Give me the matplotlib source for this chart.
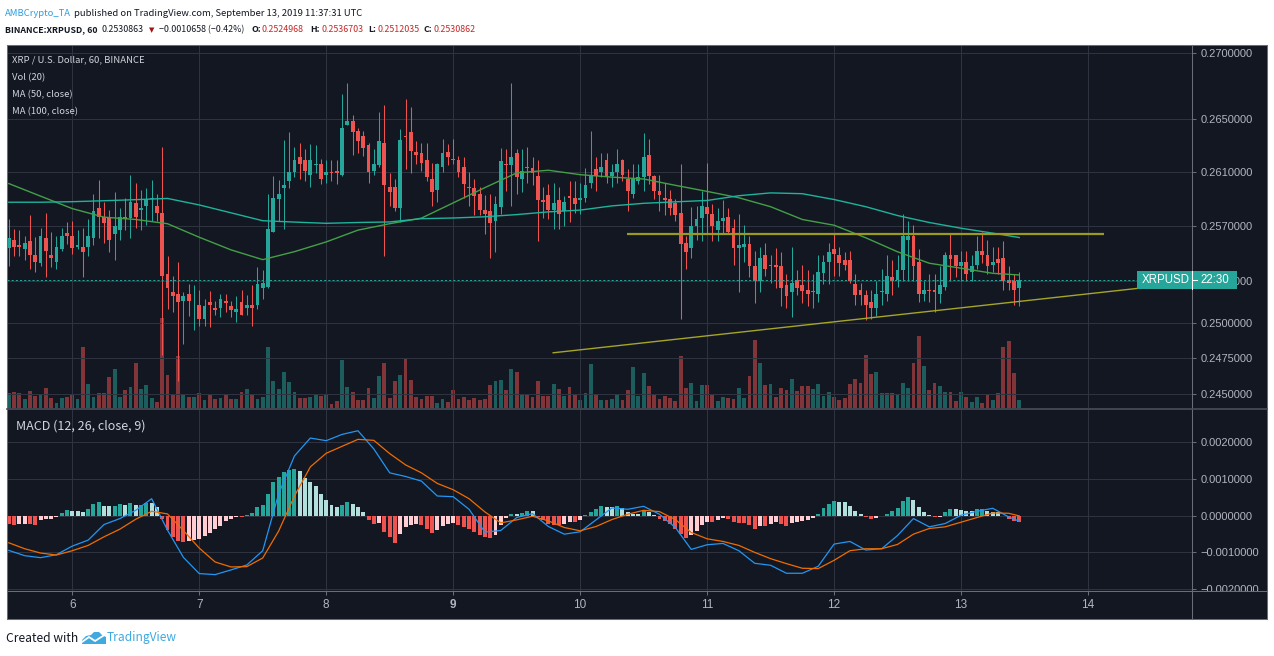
import matplotlib
matplotlib.use("Agg")
import numpy as np
import matplotlib.pyplot as plt
import matplotlib.ticker as mticker
from matplotlib.patches import Rectangle, Polygon
from matplotlib.lines import Line2D

# ---------------- data (hourly candles, index 0 = Sep 5 12:00 UTC) ----------------
day_labels = ["6", "7", "8", "9", "10", "11", "12", "13", "14"]
day_index = [12, 36, 60, 84, 108, 132, 156, 180, 204]

open_ = [
    0.2554, 0.2560, 0.2556, 0.2553, 0.2559, 0.2549, 0.2543, 0.2561, 0.2549, 0.2544, 0.2553, 0.2565,
    0.2563, 0.2555, 0.2555, 0.2555, 0.2561, 0.2583, 0.2577, 0.2576, 0.2564, 0.2567, 0.2577, 0.2576,
    0.2587, 0.2582, 0.2585, 0.2590, 0.2585, 0.2580, 0.2535, 0.2522, 0.2521, 0.2516, 0.2521, 0.2514,
    0.2513, 0.2503, 0.2515, 0.2511, 0.2511, 0.2516, 0.2512, 0.2508, 0.2515, 0.2511, 0.2513, 0.2513,
    0.2525, 0.2526, 0.2566, 0.2590, 0.2598, 0.2603, 0.2610, 0.2621, 0.2619, 0.2608, 0.2615, 0.2616,
    0.2608, 0.2610, 0.2611, 0.2608, 0.2645, 0.2648, 0.2641, 0.2637, 0.2630, 0.2611, 0.2615, 0.2632,
    0.2599, 0.2599, 0.2583, 0.2637, 0.2640, 0.2625, 0.2624, 0.2619, 0.2605, 0.2597, 0.2614, 0.2625,
    0.2620, 0.2619, 0.2614, 0.2599, 0.2598, 0.2594, 0.2582, 0.2581, 0.2574, 0.2584, 0.2616, 0.2615,
    0.2624, 0.2605, 0.2614, 0.2613, 0.2607, 0.2589, 0.2593, 0.2582, 0.2589, 0.2581, 0.2592, 0.2591,
    0.2589, 0.2591, 0.2602, 0.2612, 0.2610, 0.2619, 0.2607, 0.2610, 0.2619, 0.2605, 0.2594, 0.2603,
    0.2606, 0.2623, 0.2607, 0.2596, 0.2591, 0.2590, 0.2587, 0.2580, 0.2558, 0.2554, 0.2570, 0.2576,
    0.2584, 0.2579, 0.2567, 0.2574, 0.2577, 0.2569, 0.2554, 0.2555, 0.2557, 0.2541, 0.2530, 0.2549,
    0.2541, 0.2542, 0.2541, 0.2527, 0.2522, 0.2531, 0.2527, 0.2524, 0.2522, 0.2521, 0.2536, 0.2544,
    0.2553, 0.2549, 0.2545, 0.2545, 0.2528, 0.2524, 0.2520, 0.2515, 0.2511, 0.2522, 0.2521, 0.2533,
    0.2531, 0.2538, 0.2560, 0.2563, 0.2544, 0.2521, 0.2524, 0.2524, 0.2521, 0.2526, 0.2549, 0.2549,
    0.2541, 0.2544, 0.2537, 0.2542, 0.2552, 0.2549, 0.2542, 0.2546, 0.2547, 0.2531, 0.2530, 0.2524968,
]
high = [
    0.2575, 0.2568, 0.2567, 0.2563, 0.2578, 0.2562, 0.2569, 0.2580, 0.2566, 0.2563, 0.2569, 0.2573,
    0.2574, 0.2567, 0.2569, 0.2575, 0.2594, 0.2604, 0.2588, 0.2582, 0.2595, 0.2583, 0.2591, 0.2608,
    0.2602, 0.2597, 0.2598, 0.2604, 0.2594, 0.2629, 0.2548, 0.2534, 0.2544, 0.2522, 0.2528, 0.2527,
    0.2524, 0.2517, 0.2523, 0.2516, 0.2521, 0.2521, 0.2516, 0.2519, 0.2524, 0.2520, 0.2527, 0.2540,
    0.2538, 0.2594, 0.2607, 0.2604, 0.2634, 0.2640, 0.2629, 0.2632, 0.2627, 0.2631, 0.2630, 0.2620,
    0.2619, 0.2619, 0.2619, 0.2669, 0.2677, 0.2653, 0.2643, 0.2641, 0.2632, 0.2627, 0.2655, 0.2660,
    0.2609, 0.2605, 0.2642, 0.2665, 0.2659, 0.2633, 0.2632, 0.2632, 0.2617, 0.2617, 0.2635, 0.2631,
    0.2635, 0.2622, 0.2621, 0.2610, 0.2605, 0.2599, 0.2593, 0.2594, 0.2592, 0.2628, 0.2627, 0.2677,
    0.2627, 0.2627, 0.2629, 0.2621, 0.2619, 0.2599, 0.2601, 0.2602, 0.2599, 0.2592, 0.2603, 0.2603,
    0.2602, 0.2613, 0.2641, 0.2621, 0.2624, 0.2624, 0.2616, 0.2627, 0.2620, 0.2612, 0.2616, 0.2616,
    0.2639, 0.2635, 0.2608, 0.2608, 0.2602, 0.2597, 0.2590, 0.2616, 0.2563, 0.2584, 0.2585, 0.2596,
    0.2617, 0.2586, 0.2583, 0.2589, 0.2583, 0.2575, 0.2579, 0.2571, 0.2563, 0.2552, 0.2555, 0.2558,
    0.2549, 0.2554, 0.2551, 0.2535, 0.2555, 0.2538, 0.2542, 0.2538, 0.2535, 0.2549, 0.2549, 0.2558,
    0.2564, 0.2555, 0.2551, 0.2552, 0.2535, 0.2529, 0.2524, 0.2524, 0.2530, 0.2539, 0.2549, 0.2545,
    0.2549, 0.2579, 0.2574, 0.2571, 0.2553, 0.2530, 0.2535, 0.2535, 0.2541, 0.2551, 0.2564, 0.2549,
    0.2552, 0.2552, 0.2549, 0.2563, 0.2566, 0.2560, 0.2555, 0.2555, 0.2559, 0.2541, 0.2535, 0.2536703,
]
low = [
    0.2541, 0.2548, 0.2548, 0.2545, 0.2539, 0.2537, 0.2541, 0.2533, 0.2540, 0.2539, 0.2552, 0.2557,
    0.2550, 0.2553, 0.2533, 0.2548, 0.2556, 0.2561, 0.2558, 0.2551, 0.2545, 0.2560, 0.2567, 0.2561,
    0.2569, 0.2567, 0.2571, 0.2574, 0.2574, 0.2477, 0.2510, 0.2508, 0.2459, 0.2485, 0.2505, 0.2495,
    0.2498, 0.2498, 0.2497, 0.2506, 0.2504, 0.2508, 0.2504, 0.2501, 0.2506, 0.2506, 0.2498, 0.2510,
    0.2517, 0.2525, 0.2566, 0.2574, 0.2568, 0.2598, 0.2606, 0.2605, 0.2603, 0.2599, 0.2609, 0.2601,
    0.2602, 0.2603, 0.2601, 0.2607, 0.2645, 0.2623, 0.2624, 0.2622, 0.2602, 0.2608, 0.2614, 0.2548,
    0.2585, 0.2581, 0.2573, 0.2612, 0.2609, 0.2616, 0.2611, 0.2603, 0.2585, 0.2588, 0.2610, 0.2615,
    0.2616, 0.2606, 0.2591, 0.2585, 0.2578, 0.2578, 0.2564, 0.2547, 0.2551, 0.2579, 0.2596, 0.2585,
    0.2594, 0.2595, 0.2602, 0.2600, 0.2559, 0.2576, 0.2575, 0.2568, 0.2568, 0.2570, 0.2573, 0.2580,
    0.2579, 0.2588, 0.2598, 0.2596, 0.2606, 0.2602, 0.2599, 0.2602, 0.2603, 0.2581, 0.2591, 0.2601,
    0.2596, 0.2601, 0.2590, 0.2581, 0.2578, 0.2578, 0.2574, 0.2503, 0.2539, 0.2547, 0.2560, 0.2559,
    0.2564, 0.2559, 0.2559, 0.2565, 0.2565, 0.2542, 0.2522, 0.2544, 0.2533, 0.2514, 0.2522, 0.2534,
    0.2529, 0.2525, 0.2512, 0.2511, 0.2504, 0.2520, 0.2514, 0.2512, 0.2511, 0.2515, 0.2528, 0.2528,
    0.2534, 0.2534, 0.2538, 0.2529, 0.2513, 0.2513, 0.2502, 0.2503, 0.2505, 0.2513, 0.2516, 0.2520,
    0.2526, 0.2530, 0.2530, 0.2530, 0.2515, 0.2516, 0.2515, 0.2508, 0.2514, 0.2524, 0.2530, 0.2533,
    0.2530, 0.2530, 0.2530, 0.2539, 0.2543, 0.2535, 0.2537, 0.2535, 0.2524, 0.2524, 0.2513, 0.2512035,
]
close = [
    0.2561, 0.2555, 0.2555, 0.2558, 0.2549, 0.2544, 0.2563, 0.2552, 0.2547, 0.2555, 0.2563, 0.2563,
    0.2554, 0.2556, 0.2551, 0.2563, 0.2581, 0.2577, 0.2572, 0.2560, 0.2570, 0.2577, 0.2575, 0.2588,
    0.2577, 0.2583, 0.2590, 0.2591, 0.2580, 0.2534, 0.2525, 0.2519, 0.2515, 0.2519, 0.2516, 0.2514,
    0.2503, 0.2512, 0.2513, 0.2509, 0.2517, 0.2514, 0.2509, 0.2510, 0.2506, 0.2513, 0.2511, 0.2528,
    0.2529, 0.2568, 0.2591, 0.2594, 0.2600, 0.2610, 0.2619, 0.2616, 0.2611, 0.2619, 0.2616, 0.2605,
    0.2610, 0.2609, 0.2609, 0.2643, 0.2648, 0.2640, 0.2633, 0.2628, 0.2610, 0.2616, 0.2633, 0.2600,
    0.2595, 0.2583, 0.2634, 0.2636, 0.2626, 0.2623, 0.2617, 0.2606, 0.2595, 0.2616, 0.2624, 0.2621,
    0.2619, 0.2610, 0.2601, 0.2598, 0.2592, 0.2582, 0.2579, 0.2572, 0.2586, 0.2618, 0.2615, 0.2621,
    0.2606, 0.2611, 0.2613, 0.2609, 0.2589, 0.2588, 0.2582, 0.2587, 0.2579, 0.2588, 0.2591, 0.2586,
    0.2591, 0.2600, 0.2608, 0.2607, 0.2614, 0.2606, 0.2610, 0.2616, 0.2608, 0.2596, 0.2605, 0.2606,
    0.2621, 0.2607, 0.2596, 0.2593, 0.2589, 0.2583, 0.2578, 0.2557, 0.2551, 0.2570, 0.2575, 0.2585,
    0.2579, 0.2570, 0.2574, 0.2576, 0.2566, 0.2554, 0.2556, 0.2557, 0.2541, 0.2530, 0.2547, 0.2539,
    0.2542, 0.2540, 0.2525, 0.2519, 0.2529, 0.2525, 0.2523, 0.2521, 0.2523, 0.2537, 0.2544, 0.2551,
    0.2550, 0.2543, 0.2542, 0.2530, 0.2520, 0.2520, 0.2513, 0.2511, 0.2521, 0.2523, 0.2534, 0.2530,
    0.2538, 0.2563, 0.2563, 0.2541, 0.2521, 0.2524, 0.2523, 0.2522, 0.2527, 0.2549, 0.2546, 0.2541,
    0.2544, 0.2535, 0.2541, 0.2552, 0.2549, 0.2541, 0.2544, 0.2543, 0.2530, 0.2529, 0.2524, 0.2530862,
]
volume = [
    15, 16, 15, 9, 17, 12, 14, 20, 10, 5, 10, 11,
    13, 9, 61, 24, 11, 15, 15, 31, 39, 11, 18, 21,
    45, 19, 23, 10, 6, 90, 33, 14, 52, 14, 11, 11,
    15, 8, 14, 9, 10, 13, 9, 9, 16, 19, 13, 9,
    11, 61, 27, 19, 36, 26, 16, 10, 10, 11, 13, 12,
    14, 4, 7, 48, 21, 16, 8, 8, 20, 10, 32, 45,
    10, 27, 33, 50, 28, 11, 9, 12, 12, 5, 9, 6,
    18, 9, 11, 8, 10, 8, 9, 23, 27, 28, 18, 39,
    36, 13, 13, 11, 27, 12, 12, 24, 19, 12, 21, 13,
    8, 15, 44, 14, 8, 8, 9, 13, 8, 18, 41, 12,
    35, 22, 13, 9, 12, 10, 7, 52, 20, 25, 7, 23,
    23, 14, 7, 11, 10, 9, 20, 10, 32, 68, 45, 23,
    24, 11, 20, 18, 29, 17, 22, 22, 19, 24, 12, 16,
    11, 8, 10, 24, 29, 25, 53, 34, 36, 15, 15, 15,
    13, 25, 20, 45, 72, 42, 18, 25, 22, 16, 16, 7,
    16, 11, 6, 11, 5, 14, 8, 15, 61, 67, 35, 8,
]

ma_index = list(range(0, 187, 6)) + [191]
ma50 = [0.26014, 0.25921, 0.25829, 0.25766, 0.25749, 0.25718, 0.25619, 0.25527, 0.25456, 0.25514,
        0.25585, 0.25671, 0.25718, 0.25759, 0.25871, 0.25984, 0.26093, 0.26113, 0.26080, 0.26062,
        0.26048, 0.26001, 0.25956, 0.25909, 0.25843, 0.25749, 0.25707, 0.25615, 0.25513, 0.25430,
        0.25394, 0.25357, 0.25345]
ma100 = [0.25876, 0.25876, 0.25880, 0.25887, 0.25895, 0.25904, 0.25856, 0.25798, 0.25740, 0.25730,
         0.25721, 0.25727, 0.25731, 0.25755, 0.25760, 0.25769, 0.25785, 0.25805, 0.25818, 0.25849,
         0.25868, 0.25879, 0.25889, 0.25924, 0.25945, 0.25939, 0.25896, 0.25843, 0.25778, 0.25727,
         0.25685, 0.25649, 0.25617]

macd_index = list(range(0, 190, 3)) + [191]
macd_line = [
    -0.000946, -0.001090, -0.001144, -0.001063, -0.000829, -0.000667, -0.000243, -0.000081, 0.000144, 0.000459,
    -0.000396, -0.001135, -0.001577, -0.001604, -0.001477, -0.001342, -0.000955, 0.000586, 0.001622, 0.002108,
    0.002036, 0.002207, 0.002306, 0.001811, 0.001162, 0.001063, 0.000937, 0.000532, 0.000514, 0.000171,
    -0.000450, -0.000405, -0.000054, 0.000054, -0.000297, -0.000505, -0.000441, -0.000117, 0.000207, 0.000171,
    0.000252, 0.000036, -0.000324, -0.000919, -0.000793, -0.000757, -0.000955, -0.001297, -0.001351, -0.001568,
    -0.001568, -0.001378, -0.000775, -0.000703, -0.000937, -0.000901, -0.000541, -0.000081, -0.000306, -0.000216,
    0.000009, 0.000117, 0.000198, -0.000036, -0.000153,
]
signal_line = [
    -0.000739, -0.000901, -0.001018, -0.001072, -0.000955, -0.000811, -0.000577, -0.000369, -0.000099, 0.000117,
    0.000045, -0.000405, -0.000883, -0.001261, -0.001396, -0.001387, -0.001153, -0.000423, 0.000532, 0.001324,
    0.001694, 0.001883, 0.002072, 0.002045, 0.001685, 0.001378, 0.001162, 0.000874, 0.000703, 0.000459,
    0.000099, -0.000198, -0.000117, -0.000018, -0.000144, -0.000324, -0.000414, -0.000297, -0.000108, 0.000036,
    0.000144, 0.000108, -0.000108, -0.000459, -0.000631, -0.000703, -0.000811, -0.001000, -0.001171, -0.001306,
    -0.001432, -0.001441, -0.001216, -0.000955, -0.000901, -0.000901, -0.000784, -0.000505, -0.000351, -0.000306,
    -0.000180, -0.000054, 0.000072, 0.000063, -0.000009,
]
macd_hist = [
    -0.00022, -0.00025, -0.00024, -0.00022, -0.00023, -0.00025, -0.00013, -0.00010, -0.00008, -0.00004, 0.00008, 0.00014,
    0.00013, 0.00013, 0.00009, 0.00017, 0.00032, 0.00037, 0.00026, 0.00025, 0.00027, 0.00031, 0.00029, 0.00035,
    0.00029, 0.00030, 0.00033, 0.00033, 0.00023, -0.00010, -0.00040, -0.00058, -0.00070, -0.00071, -0.00070, -0.00066,
    -0.00065, -0.00056, -0.00047, -0.00036, -0.00027, -0.00016, -0.00010, -0.00005, -0.00005, 0.00001, 0.00008, 0.00022,
    0.00028, 0.00058, 0.00091, 0.00106, 0.00118, 0.00123, 0.00126, 0.00121, 0.00103, 0.00092, 0.00081, 0.00059,
    0.00043, 0.00028, 0.00022, 0.00028, 0.00036, 0.00032, 0.00023, 0.00009, -0.00013, -0.00023, -0.00021, -0.00044,
    -0.00057, -0.00074, -0.00050, -0.00030, -0.00025, -0.00023, -0.00026, -0.00036, -0.00047, -0.00039, -0.00028, -0.00023,
    -0.00020, -0.00026, -0.00031, -0.00037, -0.00044, -0.00052, -0.00058, -0.00060, -0.00052, -0.00026, -0.00006, 0.00005,
    0.00005, 0.00008, 0.00012, 0.00012, -0.00005, -0.00011, -0.00022, -0.00025, -0.00025, -0.00024, -0.00017, -0.00017,
    -0.00011, 0.00002, 0.00009, 0.00017, 0.00025, 0.00023, 0.00023, 0.00026, 0.00021, 0.00009, 0.00005, 0.00004,
    0.00014, 0.00009, 0.00001, -0.00009, -0.00016, -0.00024, -0.00036, -0.00050, -0.00060, -0.00054, -0.00041, -0.00025,
    -0.00017, -0.00017, -0.00013, -0.00006, -0.00009, -0.00018, -0.00020, -0.00020, -0.00025, -0.00036, -0.00028, -0.00028,
    -0.00023, -0.00017, -0.00023, -0.00028, -0.00020, -0.00018, -0.00015, -0.00013, -0.00006, 0.00004, 0.00020, 0.00031,
    0.00039, 0.00038, 0.00036, 0.00025, 0.00012, 0.00004, -0.00004, -0.00009, -0.00006, 0.00000, 0.00005, 0.00012,
    0.00020, 0.00039, 0.00050, 0.00042, 0.00023, 0.00009, 0.00002, -0.00004, -0.00003, 0.00009, 0.00017, 0.00017,
    0.00016, 0.00012, 0.00012, 0.00017, 0.00018, 0.00012, 0.00009, 0.00009, 0.00000, -0.00009, -0.00016, -0.00017,
]

last_price = 0.2530862
resistance_x = [116.9, 207.0]
resistance_y = [0.25645, 0.25645]
support_x = [102.9, 213.3]
support_y = [0.24789, 0.25248]

price_ticks = [0.2450, 0.2475, 0.2500, 0.2530, 0.2570, 0.2610, 0.2650, 0.2700]
macd_ticks = [-0.002, -0.001, 0.0, 0.001, 0.002]

# ---------------- styling ----------------
plt.rcParams['font.family'] = ['Liberation Sans', 'DejaVu Sans']
SRC = ['Noto Sans CJK JP', 'Liberation Sans', 'DejaVu Sans']
BG = '#131722'
GRID = '#2f3340'
FRAME = '#6a6d78'
TXT = '#b2b5be'
UP = '#26a69a'
DN = '#ef5350'
INK = '#131722'
VALRED = '#c62828'

W, H = 1274, 656
fig = plt.figure(figsize=(W / 100, H / 100), dpi=100)
fig.patch.set_facecolor('white')


def fr(x0, y0, x1, y1):
    return [x0 / W, 1 - y1 / H, (x1 - x0) / W, (y1 - y0) / H]


def fp(x, y):
    return (x / W, 1 - y / H)


fig.add_artist(Rectangle(fp(7, 619), 1260 / W, 574 / H, transform=fig.transFigure,
                         facecolor=BG, edgecolor='none', zorder=-10))

n = len(close)
idx = np.arange(n)
o, hi_, lo_, c = (np.array(a) for a in (open_, high, low, close))
up = c >= o
cols = np.where(up, UP, DN)

X0, X1 = -0.34, 223.66
px_per_bar = (1192 - 7) / (X1 - X0)

# volume (behind candles)
ax_v = fig.add_axes(fr(7, 45, 1192, 408), zorder=0)
ax_v.bar(idx, volume, width=0.72, color=cols, alpha=0.5, linewidth=0)
ax_v.set_xlim(X0, X1)
ax_v.set_ylim(0, max(volume) * 4.03)
ax_v.axis('off')

# price pane
ax = fig.add_axes(fr(7, 45, 1192, 408), zorder=1)
ax.set_facecolor('none')
ax.set_yscale('log')
ax.set_xlim(X0, X1)
ax.set_ylim(0.24402, 0.27062)
ax.yaxis.set_major_locator(mticker.FixedLocator(price_ticks))
ax.yaxis.set_minor_locator(mticker.NullLocator())
ax.yaxis.set_major_formatter(mticker.FuncFormatter(lambda v, p: f"{v:.7f}"))
ax.yaxis.set_minor_formatter(mticker.NullFormatter())
ax.yaxis.tick_right()
ax.tick_params(axis='y', which='major', direction='out', length=3, width=0.75,
               color=FRAME, labelcolor=TXT, labelsize=8, pad=3.4)
ax.set_xticks(day_index)
ax.tick_params(axis='x', length=0, labelbottom=False)
ax.grid(True, color=GRID, lw=0.75)
ax.set_axisbelow(True)
for s in ax.spines.values():
    s.set_visible(False)

body_lo = np.minimum(o, c)
body_h = np.maximum(np.abs(c - o), 0.00003)
ax.vlines(idx, lo_, hi_, colors=cols, lw=0.75, zorder=3)
ax.bar(idx, body_h, bottom=body_lo, width=0.72, color=cols, linewidth=0, zorder=4)

ax.plot(ma_index, ma50, color='#43a047', lw=1.0, zorder=5)
ax.plot(ma_index, ma100, color='#1db39c', lw=1.0, zorder=5)
ax.plot(resistance_x, resistance_y, color='#9a9a1e', lw=1.6, zorder=6, solid_capstyle='butt')
ax.plot(support_x, support_y, color='#a5a528', lw=1.0, zorder=6)
ax.axhline(last_price, color=UP, lw=0.75, ls=(0, (2, 2)), zorder=6)

# MACD pane
ax_m = fig.add_axes(fr(7, 410, 1192, 591), zorder=1)
ax_m.set_facecolor('none')
ax_m.set_xlim(X0, X1)
ax_m.set_ylim(-0.00205, 0.00287)
hcols = []
prev = macd_hist[0]
for v in macd_hist:
    if v >= 0:
        hcols.append('#26a69a' if v > prev else '#b2dfdb')
    else:
        hcols.append('#ffcdd2' if v > prev else '#ef5350')
    prev = v
ax_m.bar(idx, macd_hist, width=0.75, color=hcols, linewidth=0, zorder=2)
ax_m.plot(macd_index, macd_line, color='#2196f3', lw=0.9, zorder=3)
ax_m.plot(macd_index, signal_line, color='#ef6c00', lw=0.9, zorder=3)
ax_m.yaxis.set_major_locator(mticker.FixedLocator(macd_ticks))
ax_m.yaxis.set_major_formatter(mticker.FuncFormatter(lambda v, p: f"{v:.7f}".replace('-', '\u2212')))
ax_m.yaxis.tick_right()
ax_m.tick_params(axis='y', direction='out', length=3, width=0.75, color=FRAME,
                 labelcolor=TXT, labelsize=8, pad=3.4)
ax_m.set_xticks(day_index)
ax_m.tick_params(axis='x', length=0, labelbottom=False)
ax_m.grid(True, color=GRID, lw=0.75)
ax_m.set_axisbelow(True)
for s in ax_m.spines.values():
    s.set_visible(False)

# time axis strip
ax_t = fig.add_axes(fr(7, 591, 1267, 619), zorder=5)
ax_t.set_facecolor(BG)
ax_t.set_xlim(X0, X0 + (1267 - 7) / px_per_bar)
ax_t.set_ylim(0, 1)
ax_t.set_yticks([])
ax_t.set_xticks(day_index)
ax_t.tick_params(axis='x', direction='in', length=3, width=0.75, color=FRAME,
                 top=True, bottom=False, labelbottom=False)
for s in ax_t.spines.values():
    s.set_visible(False)
for d, lab in zip(day_index, day_labels):
    ax_t.text(d, 0.5, lab, ha='center', va='center', color=TXT, fontsize=8.5,
              fontweight='bold' if lab == '9' else 'normal')

# frame lines
def seg(x0, y0, x1, y1, color=FRAME, lw=0.75, z=20):
    fig.add_artist(Line2D([x0 / W, x1 / W], [1 - y0 / H, 1 - y1 / H], color=color, lw=lw,
                          zorder=z, transform=fig.transFigure))

seg(7, 44.5, 1267, 44.5)
seg(7, 619, 1267, 619)
seg(7, 44.5, 7, 619)
seg(1267, 44.5, 1267, 619)
seg(1192, 44.5, 1192, 619)
seg(7, 409, 1267, 409, color='#4a4e5a', lw=1.2)
seg(7, 591, 1267, 591)

# last price label (covers most of the 0.2530000 scale label, as in the original)
fig.add_artist(Rectangle(fp(1137, 289), 100 / W, 18 / H, transform=fig.transFigure,
                         facecolor=UP, edgecolor='none', zorder=21))
fig.text(1142 / W, 1 - 280 / H, 'XRPUSD', color='white', fontsize=8.3, va='center', zorder=22)
seg(1192, 271, 1192, 289, color='white', z=22)
seg(1193, 280, 1197, 280, color='white', z=22)
fig.text(1200 / W, 1 - 280 / H, '22:30', color='white', fontsize=8.3, va='center', zorder=22)

# ---------------- texts ----------------
renderer = fig.canvas.get_renderer()


def fit(x, y, s, width, family=SRC, **kw):
    t = fig.text(x / W, 1 - y / H, s, fontsize=10, va='center', ha='left', family=family, **kw)
    w = t.get_window_extent(renderer).width
    t.set_fontsize(10 * width / w)
    return t


t1 = fit(5, 13, 'AMBCrypto_TA', 66, color='#2a9fe0')
f1 = t1.get_fontsize()
fig.text(74 / W, 1 - 13 / H, 'published on TradingView.com, September 13, 2019 11:37:31 UTC',
         fontsize=f1, va='center', family=SRC, color=INK)

t2 = fit(5, 30, 'BINANCE:XRPUSD, 60', 93, color=INK, fontweight='bold')
f2 = t2.get_fontsize()
segments = [
    (102, '0.2530863', INK, 'normal'),
    (149, '\u25bc', '#a31515', 'normal'),
    (159, '\u22120.0010658 (\u22120.42%)', INK, 'normal'),
    (251, 'O:', INK, 'bold'),
    (262, '0.2524968', VALRED, 'normal'),
    (310, 'H:', INK, 'bold'),
    (321, '0.2536703', VALRED, 'normal'),
    (368, 'L:', INK, 'bold'),
    (377, '0.2512035', VALRED, 'normal'),
    (424, 'C:', INK, 'bold'),
    (434, '0.2530862', VALRED, 'normal'),
]
for x, s, col, wt in segments:
    if s == '\u25bc':
        fig.text(x / W, 1 - 30 / H, s, fontsize=f2 * 0.8, va='center',
                 family=['DejaVu Sans'], color=col)
    else:
        fig.text(x / W, 1 - 30 / H, s, fontsize=f2, va='center', family=SRC,
                 color=col, fontweight=wt)

LEG = '#d1d4dc'
tl = fit(12, 60, 'XRP / U.S. Dollar, 60, BINANCE', 132, color=LEG, zorder=25)
fl = tl.get_fontsize()
for yy, s in [(78, 'Vol (20)'), (95, 'MA (50, close)'), (111.5, 'MA (100, close)')]:
    fig.text(12 / W, 1 - yy / H, s, fontsize=fl, va='center', family=SRC, color=LEG, zorder=25)
fit(15.5, 426, 'MACD (12, 26, close, 9)', 130, color=LEG, zorder=25)

# footer
fit(6.5, 638, 'Created with', 72, color=INK)
fit(107, 638, 'TradingView', 70, color='#3fa9e0')
fig.add_artist(Polygon([fp(82, 644), fp(82, 640), fp(86, 636), fp(91, 635), fp(94, 632),
                        fp(99, 632), fp(102, 635), fp(106, 637), fp(106, 644)],
                       closed=True, transform=fig.transFigure, facecolor='#3fa9e0',
                       edgecolor='none'))
fig.add_artist(Line2D([82 / W, 89 / W, 95 / W, 106 / W],
                      [1 - 642 / H, 1 - 637 / H, 1 - 641 / H, 1 - 634 / H],
                      color='white', lw=1.3, transform=fig.transFigure))

fig.savefig('out.png', dpi=100, facecolor='white')
